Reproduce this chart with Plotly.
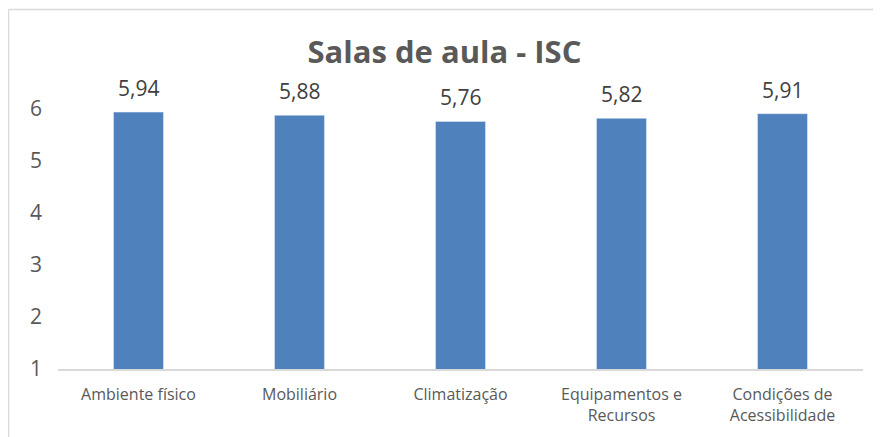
import plotly.graph_objects as go

categorias = ["Ambiente físico", "Mobiliário", "Climatização", "Equipamentos e<br>Recursos", "Condições de<br>Acessibilidade"]
valores = [5.94, 5.88, 5.76, 5.82, 5.91]
rotulos = ["5,94", "5,88", "5,76", "5,82", "5,91"]
y_ticks = [1, 2, 3, 4, 5, 6]

cinza = "#595959"
borda = "#D9D9D9"

# a página html tem 8px de margem no body, então a figura é 8px menor
W, H = 873, 429
L, R, T, B = 50, 18, 101, 68
pw, ph = W - L - R, H - T - B

fig = go.Figure(go.Bar(x=categorias, y=valores, marker_color="#4F81BD", cliponaxis=False))

for cat, v, r in zip(categorias, valores, rotulos):
    fig.add_annotation(x=cat, y=v, text=r, showarrow=False, yanchor="middle",
                       yshift=24, font=dict(size=21, color="#404040"))

fig.update_layout(
    width=W, height=H,
    margin=dict(l=L, r=R, t=T, b=B),
    paper_bgcolor="white", plot_bgcolor="white",
    font=dict(family="Open Sans, Liberation Sans, sans-serif", color=cinza),
    title=dict(text="<b>Salas de aula - ISC</b>", x=0.5, xanchor="center",
               y=1 - 44 / H, yanchor="middle", font=dict(size=31, color=cinza)),
    bargap=0.69,
    showlegend=False,
)
fig.update_yaxes(range=[1, 6], tickvals=y_ticks, showgrid=False, zeroline=False,
                 showline=False, tickfont=dict(size=21, color=cinza), ticklabelstandoff=15)
fig.update_xaxes(showline=True, linecolor=borda, linewidth=1.5, ticks="",
                 tickfont=dict(size=16, color=cinza), ticklabelstandoff=10)

# borda do gráfico (topo e lado esquerdo)
topo = (T + ph - 1.5) / ph
esq = -(L - 0.5) / pw
fig.add_shape(type="line", xref="paper", yref="paper", x0=esq, x1=1 + (R + 5) / pw, y0=topo, y1=topo,
              line=dict(color=borda, width=1.5))
fig.add_shape(type="line", xref="paper", yref="paper", x0=esq, x1=esq, y0=-(B + 5) / ph, y1=topo,
              line=dict(color=borda, width=1.5))

fig.write_html("out.html")
